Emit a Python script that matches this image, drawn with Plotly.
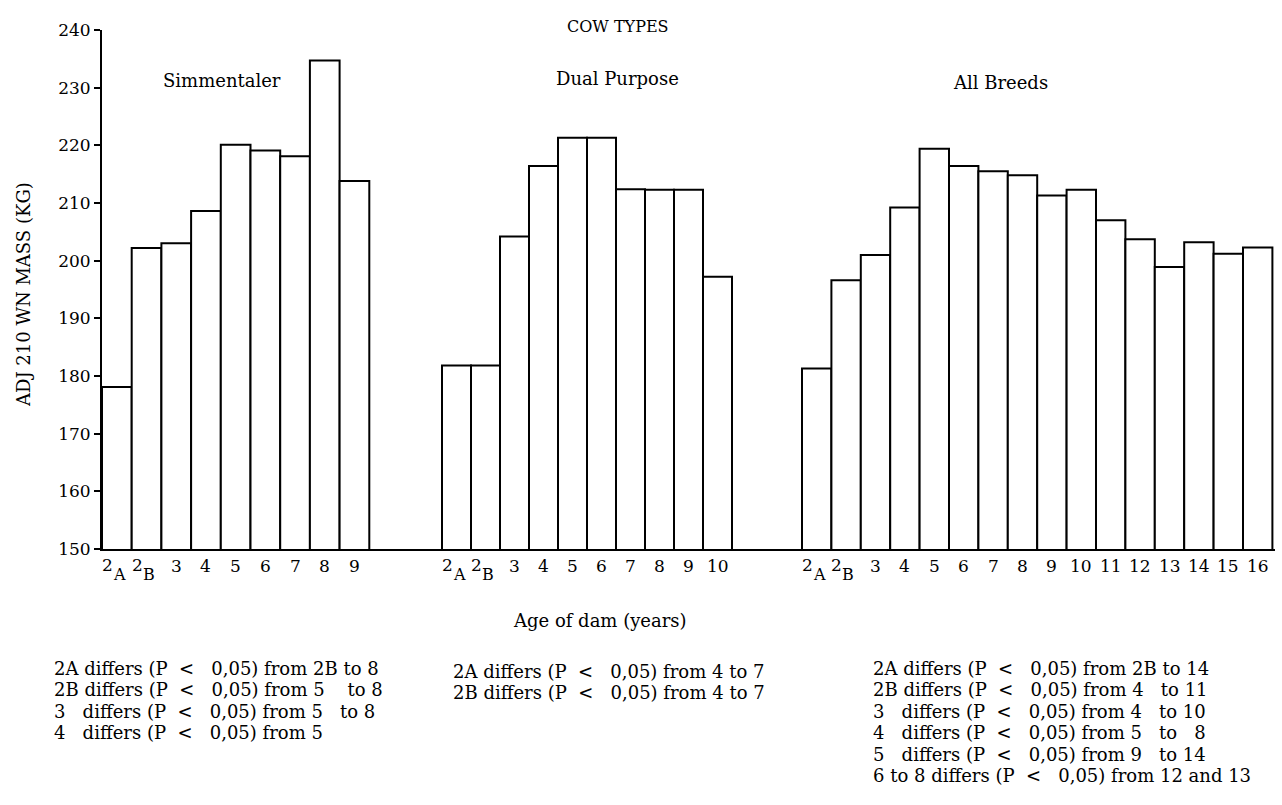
import plotly.graph_objects as go

# ---------------- data ----------------
# ("2", "A") means "2" with subscript "A"
simm_labels = [("2", "A"), ("2", "B"), "3", "4", "5", "6", "7", "8", "9"]
simm_values = [178.1, 202.2, 203.0, 208.6, 220.1, 219.1, 218.1, 234.7, 213.8]

dual_labels = [("2", "A"), ("2", "B"), "3", "4", "5", "6", "7", "8", "9", "10"]
dual_values = [181.8, 181.8, 204.2, 216.4, 221.3, 221.3, 212.4, 212.3, 212.3, 197.2]

all_labels = [("2", "A"), ("2", "B"), "3", "4", "5", "6", "7", "8", "9", "10",
              "11", "12", "13", "14", "15", "16"]
all_values = [181.3, 196.6, 201.0, 209.2, 219.4, 216.4, 215.5, 214.8, 211.3, 212.3,
              207.0, 203.7, 198.9, 203.2, 201.2, 202.3]

group_names = ["Simmentaler", "Dual Purpose", "All Breeds"]

y_ticks = [150, 160, 170, 180, 190, 200, 210, 220, 230, 240]

S = "\u00a0"
LT = "(P" + S * 2 + "&lt;" + S * 3 + "0,05)"
notes_simm = [
    "2A differs " + LT + " from 2B to 8",
    "2B differs " + LT + " from 5" + S * 4 + "to 8",
    "3" + S * 3 + "differs " + LT + " from 5" + S * 3 + "to 8",
    "4" + S * 3 + "differs " + LT + " from 5",
]
notes_dual = [
    "2A differs " + LT + " from 4 to 7",
    "2B differs " + LT + " from 4 to 7",
]
notes_all = [
    "2A differs " + LT + " from 2B to 14",
    "2B differs " + LT + " from 4" + S * 3 + "to 11",
    "3" + S * 3 + "differs " + LT + " from 4" + S * 3 + "to 10",
    "4" + S * 3 + "differs " + LT + " from 5" + S * 3 + "to" + S * 3 + "8",
    "5" + S * 3 + "differs " + LT + " from 9" + S * 3 + "to 14",
    "6 to 8 differs " + LT + " from 12 and 13",
]

# ---------------- layout constants ----------------
FONT = "DejaVu Serif"
W, H = 1282, 805
ML, MR, MT, MB = 102, 7, 30, 256
PW = W - ML - MR
PH = H - MT - MB
group_start = [0, 340, 700]      # horizontal offset of each group on the x scale
bar_width = [29.7, 29.0, 29.4]   # bar width per group

def px_x(p):
    return (p - ML) / PW

def px_y(p):
    return (H - MB - p) / PH

fig = go.Figure()
ann = []

def add(text, x, y, size=17, xanchor="center", angle=0, xref="paper", pad=1):
    ann.append(dict(text=text, x=(px_x(x) if xref == "paper" else x), y=px_y(y),
                    xref=xref, yref="paper", borderpad=pad, borderwidth=0,
                    showarrow=False, xanchor=xanchor, yanchor="middle",
                    textangle=angle, font=dict(family=FONT, size=size, color="black")))

for labels, values, start, w in [
    (simm_labels, simm_values, group_start[0], bar_width[0]),
    (dual_labels, dual_values, group_start[1], bar_width[1]),
    (all_labels, all_values, group_start[2], bar_width[2]),
]:
    xs = [start + (i + 0.5) * w for i in range(len(values))]
    fig.add_trace(go.Bar(
        x=xs, y=values, width=[w] * len(values),
        marker=dict(color="white", line=dict(color="black", width=2)),
        showlegend=False, hoverinfo="skip",
    ))
    # category labels under the bars, placed on the x scale
    for xc, lab in zip(xs, labels):
        if isinstance(lab, tuple):
            add(lab[0], xc - 4, 565, size=17, xanchor="right", xref="x", pad=0)
            add(lab[1], xc - 4, 574, size=16, xanchor="left", xref="x", pad=0)
        else:
            add(lab, xc, 566, size=17, xref="x")

fig.update_layout(
    width=W, height=H, autosize=False,
    margin=dict(l=ML, r=MR, t=MT, b=MB, pad=0),
    paper_bgcolor="white", plot_bgcolor="white",
    font=dict(family=FONT, color="black", size=17),
    barmode="overlay",
    xaxis=dict(range=[0, PW], showline=True, linecolor="black", linewidth=2,
               showgrid=False, zeroline=False, ticks="", showticklabels=False),
    yaxis=dict(range=[150, 240], tickvals=y_ticks, showline=True, linecolor="black",
               linewidth=2, showgrid=False, zeroline=False, ticks="outside",
               ticklen=6, tickwidth=2, tickcolor="black",
               tickfont=dict(family=FONT, size=17, color="black")),
)

add("COW TYPES", 618, 27, size=16)
add(group_names[0], 222, 80, size=18)
add(group_names[1], 617, 79, size=18)
add(group_names[2], 1000, 82, size=18)
add("Age of dam (years)", 600, 620, size=18)
add("ADJ 210 WN MASS (KG)", 23, 295, size=18, angle=-90)

for i, t in enumerate(notes_simm):
    add(t, 53, 668 + 21.5 * i, size=18, xanchor="left")
for i, t in enumerate(notes_dual):
    add(t, 452, 671 + 21.5 * i, size=18, xanchor="left")
for i, t in enumerate(notes_all):
    add(t, 872, 668 + 21.5 * i, size=18, xanchor="left")

fig.update_layout(annotations=ann)
fig.write_html("out.html")
